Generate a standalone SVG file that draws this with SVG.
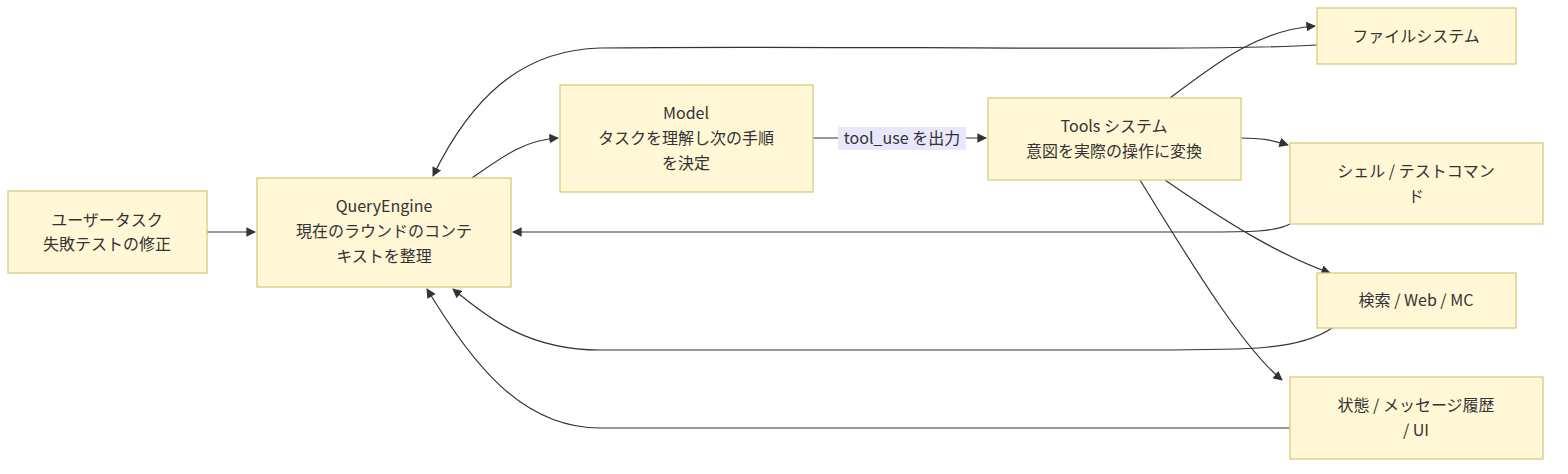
<svg xmlns="http://www.w3.org/2000/svg" width="1568" height="474" viewBox="0 0 1568 474">
<style>
.n rect{fill:#fff7d6;stroke:#d6cd7e;stroke-width:1.3}
.n text{font-family:"Noto Sans CJK JP","Noto Sans",sans-serif;font-size:16px;fill:#333;text-anchor:middle}
.e path{fill:none;stroke:#333;stroke-width:1.2;marker-end:url(#a)}
.lbl{font-family:"Noto Sans CJK JP","Noto Sans",sans-serif;font-size:16px;fill:#333;text-anchor:middle}
</style>
<defs><marker id="a" viewBox="0 0 10 10" refX="9" refY="5" markerWidth="8" markerHeight="8" orient="auto"><path d="M0,0L10,5L0,10z" fill="#333"/></marker></defs>
<rect width="1568" height="474" fill="#fff"/>
<g class="e">
<path d="M207,232H255"/>
<path d="M472,178C505,155 525,140 558,138"/>
<path d="M813,138H986"/>
<path d="M1170,98C1220,60 1260,30 1315,26"/>
<path d="M1317,45C1200,52 800,45 600,48C520,50 470,100 433,176"/>
<path d="M1241,138C1262,138 1272,140 1288,145"/>
<path d="M1290,224C1275,232 1250,232 1200,232H513"/>
<path d="M1165,180C1230,225 1280,255 1330,273"/>
<path d="M1332,328C1300,350 1250,350 1150,350H600C530,350 490,320 453,289"/>
<path d="M1140,180C1195,270 1245,350 1282,380"/>
<path d="M1290,428H600C520,428 470,360 427,289"/>
</g>
<rect x="838" y="127" width="128" height="23" fill="#e8e8fa"/>
<text class="lbl" x="902" y="144">tool_use を出力</text>
<g id="user" class="n"><rect x="8" y="191" width="199" height="82"/><text x="107" y="226">ユーザータスク</text><text x="107" y="250">失敗テストの修正</text></g>
<g id="qe" class="n"><rect x="257" y="178" width="254" height="109"/><text x="384" y="212">QueryEngine</text><text x="384" y="237">現在のラウンドのコンテ</text><text x="384" y="262">キストを整理</text></g>
<g id="model" class="n"><rect x="560" y="85" width="253" height="107"/><text x="686" y="119">Model</text><text x="686" y="144">タスクを理解し次の手順</text><text x="686" y="169">を決定</text></g>
<g id="tools" class="n"><rect x="988" y="98" width="253" height="82"/><text x="1114" y="132">Tools システム</text><text x="1114" y="157">意図を実際の操作に変換</text></g>
<g id="fs" class="n"><rect x="1317" y="8" width="199" height="56"/><text x="1416" y="42">ファイルシステム</text></g>
<g id="shell" class="n"><rect x="1290" y="143" width="253" height="81"/><text x="1416" y="177">シェル / テストコマン</text><text x="1416" y="202">ド</text></g>
<g id="search" class="n"><rect x="1317" y="273" width="199" height="55"/><text x="1416" y="306">検索 / Web / MC</text></g>
<g id="state" class="n"><rect x="1290" y="377" width="253" height="82"/><text x="1416" y="411">状態 / メッセージ履歴</text><text x="1416" y="436">/ UI</text></g>
</svg>
